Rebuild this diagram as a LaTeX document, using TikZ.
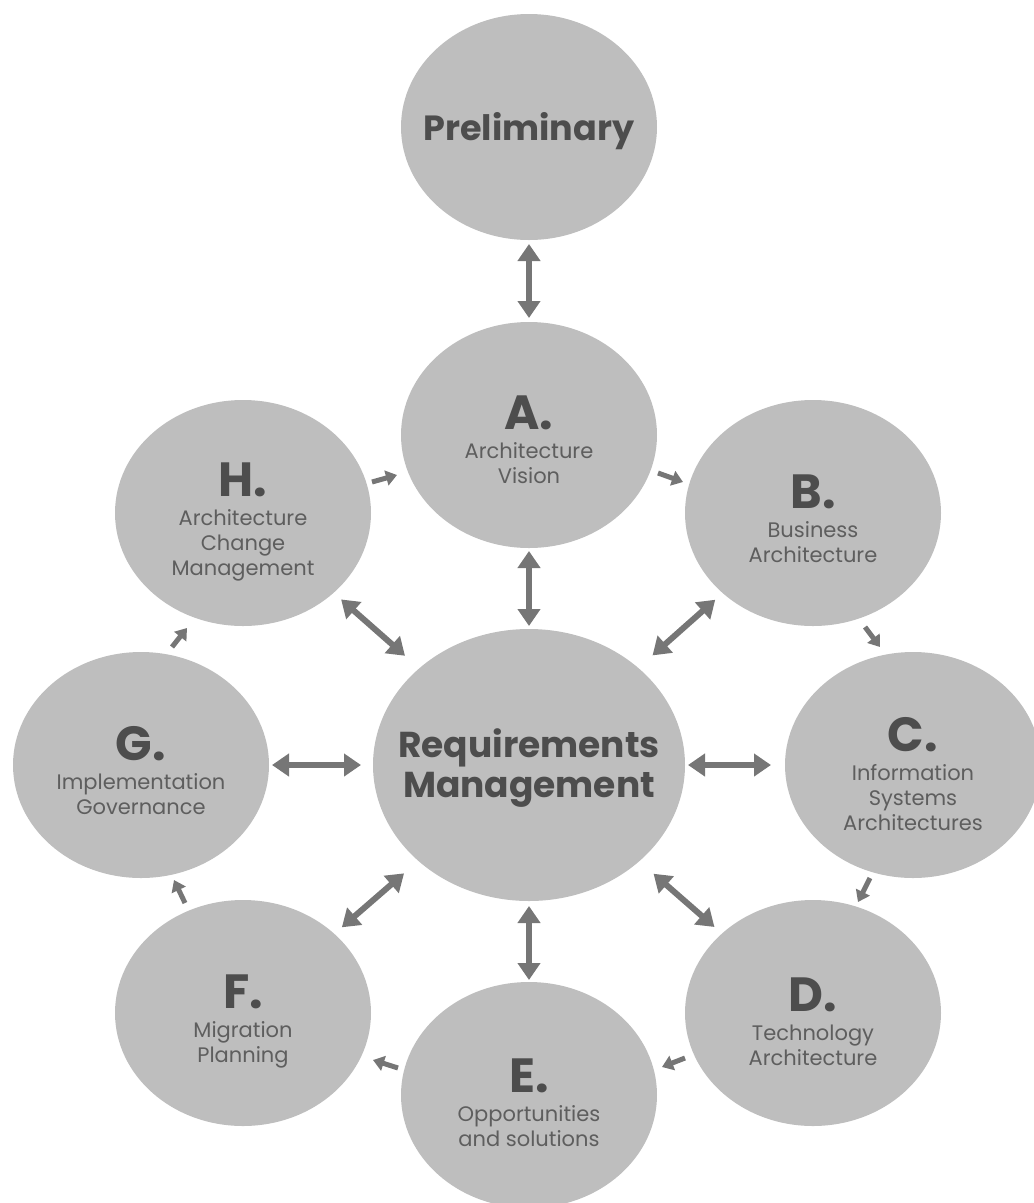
\documentclass[tikz,border=0pt]{standalone}
\usepackage{fontspec}
\setmainfont{Poppins}
\usetikzlibrary{shapes.geometric,arrows.meta,calc}
\definecolor{circgray}{HTML}{BEBEBE}
\definecolor{arrgray}{HTML}{767676}
\definecolor{lettergray}{HTML}{4D4D4D}
\definecolor{subgray}{HTML}{5E5E5E}
\newcommand{\phaseletter}[1]{{\fontsize{48}{48}\selectfont\bfseries\color{lettergray}#1}}
\begin{document}
\begin{tikzpicture}[x=1pt,y=-1pt,
  disc/.style={ellipse, fill=circgray, minimum width=256pt, minimum height=226pt,
    inner sep=0pt, outer sep=0pt},
  ptext/.style={inner sep=0pt, align=center, text=subgray,
    font=\fontsize{21}{25}\selectfont},
  htext/.style={inner sep=0pt, align=center, text=lettergray,
    font=\fontsize{35}{40}\selectfont\bfseries},
  dbl/.style={draw=arrgray, line width=6pt,
    {Triangle[length=17pt,width=22pt]}-{Triangle[length=17pt,width=22pt]}},
  cyc/.style={draw=arrgray, line width=5pt, -{Triangle[length=11pt,width=15pt]}}
]
\useasboundingbox (0,0) rectangle (1034,1203);
\clip (0,0) rectangle (1034,1203);

\node[disc] (P) at (529,127) {};
\node[disc, minimum width=312pt, minimum height=272pt] (RM) at (529,765) {};
\node[disc] (A) at (529,435) {};
\node[disc] (B) at (813,513) {};
\node[disc] (C) at (913,765) {};
\node[disc] (D) at (813,1013) {};
\node[disc] (E) at (529,1095) {};
\node[disc] (F) at (243,1013) {};
\node[disc] (G) at (141,765) {};
\node[disc] (H) at (243,513) {};

\node[htext] (Pt) at ($(P)+(0,4)$) {Preliminary};
\node[htext, font=\fontsize{36}{40}\selectfont\bfseries] (RMt) at ($(RM)+(0,3)$) {Requirements\\Management};
\node[ptext] (At) at ($(A)+(0,5)$) {\phaseletter{A.}\\[4pt]Architecture\\Vision};
\node[ptext] (Bt) at ($(B)+(0,6)$) {\phaseletter{B.}\\[4pt]Business\\Architecture};
\node[ptext] (Ct) at ($(C)+(0,9)$) {\phaseletter{C.}\\[4pt]Information\\Systems\\Architectures};
\node[ptext] (Dt) at ($(D)+(0,9)$) {\phaseletter{D.}\\[4pt]Technology\\Architecture};
\node[ptext] (Et) at ($(E)+(0,8)$) {\phaseletter{E.}\\[4pt]Opportunities\\and solutions};
\node[ptext] (Ft) at ($(F)+(0,8)$) {\phaseletter{F.}\\[4pt]Migration\\Planning};
\node[ptext] (Gt) at ($(G)+(0,6)$) {\phaseletter{G.}\\[4pt]Implementation\\Governance};
\node[ptext] (Ht) at ($(H)+(0,9)$) {\phaseletter{H.}\\[4pt]Architecture\\Change\\Management};

% double arrows
\draw[dbl, shorten <=4pt, shorten >=4pt] (P) -- (A);
\draw[dbl, shorten <=3pt, shorten >=3pt] (A) -- (RM);
\draw[dbl, shorten <=5pt, shorten >=2pt] (RM) -- (E);
\draw[dbl, shorten <=10pt, shorten >=19pt] (H) -- (RM);
\draw[dbl, shorten <=10pt, shorten >=19pt] (B) -- (RM);
\draw[dbl, shorten <=10pt, shorten >=19pt] (F) -- (RM);
\draw[dbl, shorten <=10pt, shorten >=19pt] (D) -- (RM);
\draw[dbl, shorten <=3pt, shorten >=12pt] (G) -- (RM);
\draw[dbl, shorten <=3pt, shorten >=14pt] (RM) -- (C);

% cycle arrows
\draw[cyc] ($(H)+(129,-31)$) -- ($(A)+(-132,40)$);
\draw[cyc] ($(A)+(129,38)$) -- ($(B)+(-130,-31)$);
\draw[cyc] ($(B)+(52,114)$) -- ($(C)+(-33,-118)$);
\draw[cyc] ($(C)+(-43,113)$) -- ($(D)+(45,-111)$);
\draw[cyc] ($(D)+(-128,45)$) -- ($(E)+(133,-28)$);
\draw[cyc] ($(E)+(-131,-27)$) -- ($(F)+(130,47)$);
\draw[cyc] ($(F)+(-58,-110)$) -- ($(G)+(33,115)$);
\draw[cyc] ($(G)+(31,-118)$) -- ($(H)+(-56,115)$);
\end{tikzpicture}
\end{document}
